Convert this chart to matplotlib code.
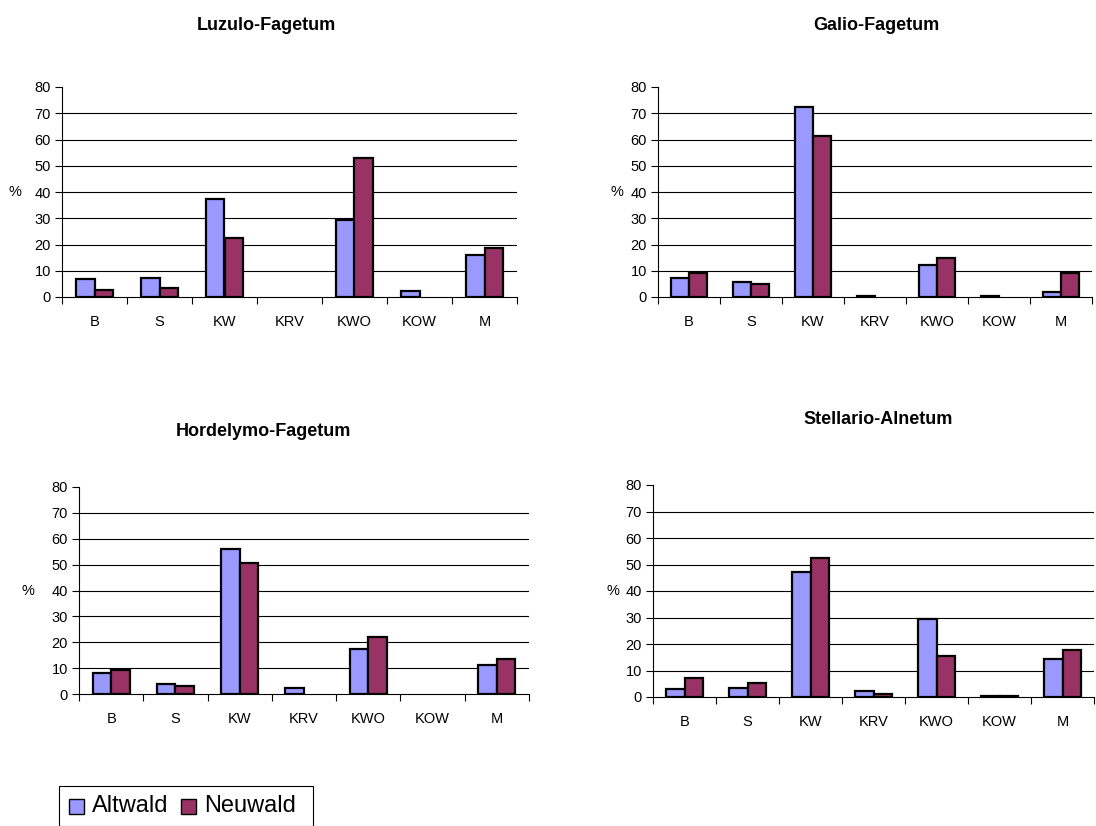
import numpy as np
import matplotlib
matplotlib.use("Agg")
import matplotlib.pyplot as plt
from matplotlib.patches import Rectangle

plt.rcParams['font.family'] = ['Liberation Sans', 'DejaVu Sans']

categories = ["B", "S", "KW", "KRV", "KWO", "KOW", "M"]
series_names = ["Altwald", "Neuwald"]

titles = ["Luzulo-Fagetum", "Galio-Fagetum", "Hordelymo-Fagetum", "Stellario-Alnetum"]

# values (%)
luzulo_alt = [6.7, 7.2, 37.5, 0.0, 29.5, 2.3, 16.0]
luzulo_neu = [2.5, 3.3, 22.3, 0.0, 53.0, 0.0, 18.5]
galio_alt = [7.3, 5.7, 72.3, 0.3, 12.2, 0.4, 2.0]
galio_neu = [9.3, 4.8, 61.3, 0.0, 14.8, 0.0, 9.3]
hordelymo_alt = [8.3, 3.8, 56.0, 2.2, 17.5, 0.0, 11.3]
hordelymo_neu = [9.2, 2.9, 50.5, 0.0, 22.2, 0.0, 13.7]
stellario_alt = [3.2, 3.5, 47.2, 2.4, 29.4, 0.2, 14.2]
stellario_neu = [7.3, 5.2, 52.5, 1.2, 15.3, 0.2, 17.8]

col_alt = "#9999FF"
col_neu = "#993366"

W, H = 1096, 826
fig = plt.figure(figsize=(W / 100, H / 100), dpi=100)

# axes boxes in pixels: left, top(y80), right, bottom(y0)
boxes = [(62, 87, 517, 297), (658, 87, 1092, 297),
         (79, 487, 529, 694), (653, 485, 1094, 697)]
title_pos = [(266, 25), (876, 25), (263, 432), (878, 420)]
pct_pos = [(15, 192), (617, 192), (28, 591), (613, 591)]

data = [(luzulo_alt, luzulo_neu), (galio_alt, galio_neu),
        (hordelymo_alt, hordelymo_neu), (stellario_alt, stellario_neu)]

x = np.arange(len(categories))
bw = 0.29


def nozero(vals):
    # zero values get no bar at all, like in the original
    v = np.array(vals, dtype=float)
    v[v == 0] = np.nan
    return v


for i, (l, t, r, b) in enumerate(boxes):
    ax = fig.add_axes([l / W, 1 - b / H, (r - l) / W, (b - t) / H])
    alt, neu = data[i]
    ax.bar(x - bw / 2, nozero(alt), bw, color=col_alt, edgecolor="black", linewidth=1.6, zorder=3)
    ax.bar(x + bw / 2, nozero(neu), bw, color=col_neu, edgecolor="black", linewidth=1.6, zorder=3)
    ax.set_xlim(-0.5, len(categories) - 0.5)
    ax.set_ylim(0, 80)
    ax.set_yticks(range(0, 81, 10))
    for v in range(10, 80, 10):
        ax.axhline(v, color="black", linewidth=0.8, zorder=1)
    ax.set_xticks(x)
    ax.set_xticklabels(categories)
    ax.set_xticks(np.arange(-0.5, len(categories), 1.0), minor=True)
    ax.tick_params(axis="x", which="major", length=0, pad=13, labelsize=10.5)
    ax.tick_params(axis="x", which="minor", length=5, width=0.8, direction="out")
    ax.tick_params(axis="y", length=5, width=0.8, direction="out", labelsize=10.5, pad=3)
    ax.spines["top"].set_visible(False)
    ax.spines["right"].set_visible(False)
    ax.spines["left"].set_linewidth(0.8)
    ax.spines["bottom"].set_linewidth(0.8)
    tx, ty = title_pos[i]
    fig.text(tx / W, 1 - ty / H, titles[i], ha="center", va="center",
             fontsize=13, fontweight="bold")
    px, py = pct_pos[i]
    fig.text(px / W, 1 - py / H, "%", ha="center", va="center", fontsize=10.5)

# legend box, cut off at the bottom edge as in the original
fig.patches.append(Rectangle((59 / W, 0), (313 - 59) / W, 1 - 786 / H,
                             transform=fig.transFigure, facecolor="white",
                             edgecolor="black", linewidth=0.8, clip_on=False))
legend_x = [(69, 92), (181, 204)]
for (sx, tx), name, col in zip(legend_x, series_names, [col_alt, col_neu]):
    fig.patches.append(Rectangle((sx / W, 1 - 814 / H), 15 / W, 15 / H,
                                 transform=fig.transFigure, facecolor=col,
                                 edgecolor="black", linewidth=1.0))
    fig.text(tx / W, 1 - 806 / H, name, ha="left", va="center", fontsize=17)

fig.savefig("out.png", dpi=100)
